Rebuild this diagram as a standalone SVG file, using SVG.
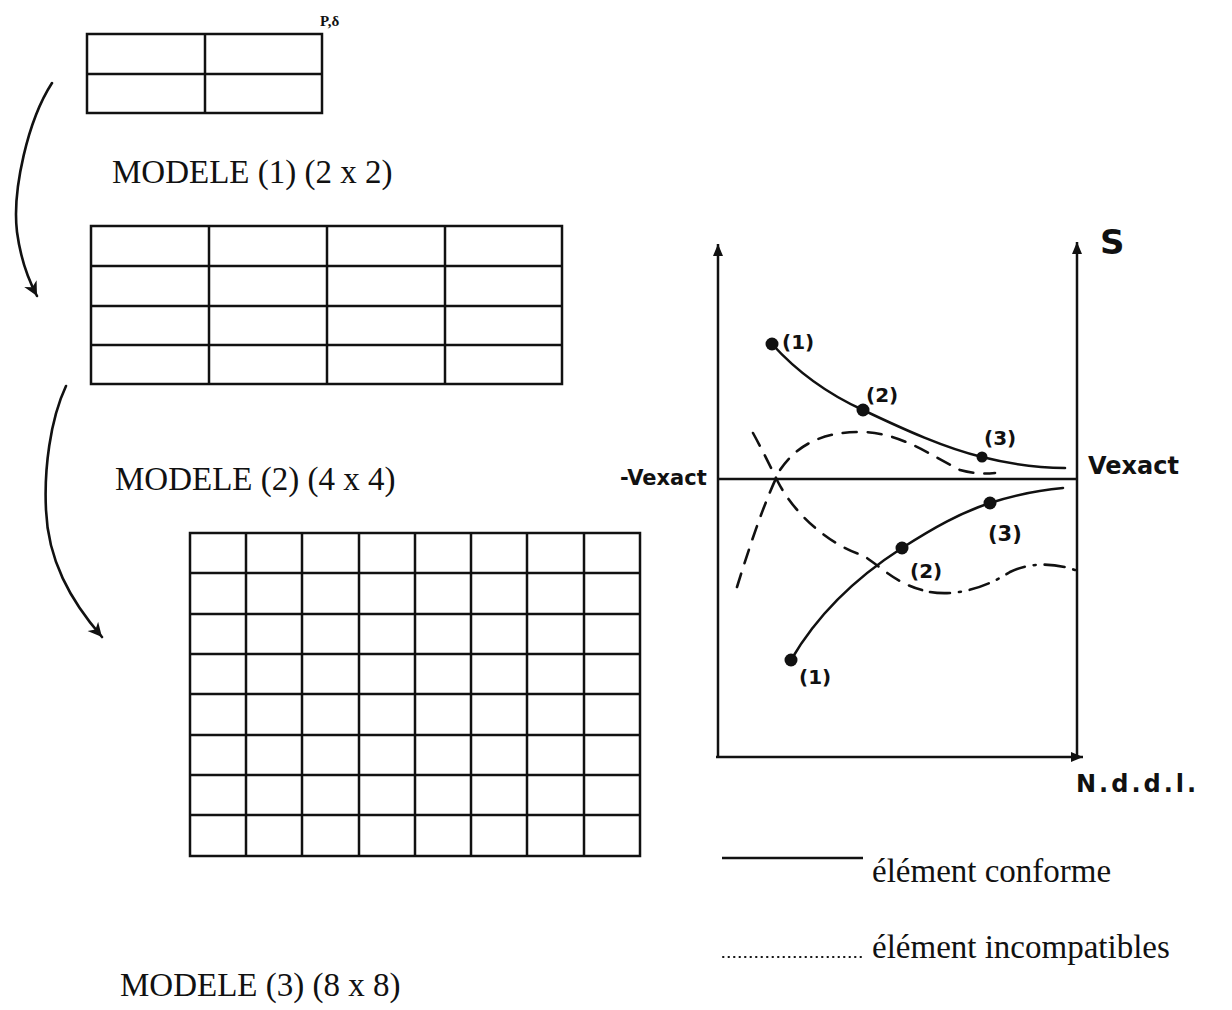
<svg xmlns="http://www.w3.org/2000/svg" width="1232" height="1010" viewBox="0 0 1232 1010">
<style>
.grid{fill:none;stroke:#111;stroke-width:2.5}
.ln{stroke:#111;stroke-width:2.5;fill:none}
.lbl{font-family:"Liberation Serif",serif;fill:#111}
.hand{font-family:"DejaVu Sans",sans-serif;font-weight:bold;fill:#111}
.curve{fill:none;stroke:#111;stroke-width:2.6;stroke-linecap:round}
.dash{fill:none;stroke:#111;stroke-width:2.6;stroke-linecap:round;stroke-dasharray:14 11}
.dashdot{fill:none;stroke:#111;stroke-width:2.6;stroke-linecap:round;stroke-dasharray:20 9 2 9}
.pt{fill:#111}
</style>
<defs>
<marker id="ax" markerUnits="userSpaceOnUse" markerWidth="14" markerHeight="12" refX="12" refY="5" orient="auto">
<path d="M0,0 L12,5 L0,10 z" fill="#111"/>
</marker>
<marker id="cv" markerUnits="userSpaceOnUse" markerWidth="18" markerHeight="16" refX="14" refY="7" orient="auto">
<path d="M0,0 L14,7 L0,14 L4,7 z" fill="#111"/>
</marker>
</defs>
<rect width="1232" height="1010" fill="#fff"/>

<g id="modele1">
<rect class="grid" x="87" y="34" width="235" height="79"/>
<line class="ln" x1="205" y1="34" x2="205" y2="113"/>
<line class="ln" x1="87" y1="74" x2="322" y2="74"/>
<text class="lbl" x="320" y="26" font-size="15" font-weight="bold">P,δ</text>
<text class="lbl" x="112" y="183" font-size="33">MODELE (1) (2 x 2)</text>
</g>

<g id="modele2">
<rect class="grid" x="91" y="226" width="471" height="158"/>
<line class="ln" x1="209" y1="226" x2="209" y2="384"/>
<line class="ln" x1="327" y1="226" x2="327" y2="384"/>
<line class="ln" x1="445" y1="226" x2="445" y2="384"/>
<line class="ln" x1="91" y1="266" x2="562" y2="266"/>
<line class="ln" x1="91" y1="306" x2="562" y2="306"/>
<line class="ln" x1="91" y1="345" x2="562" y2="345"/>
<text class="lbl" x="115" y="490" font-size="33">MODELE (2) (4 x 4)</text>
</g>

<g id="modele3">
<rect class="grid" x="190" y="533" width="450" height="323"/>
<path class="ln" d="M246,533V856M302,533V856M359,533V856M415,533V856M471,533V856M527,533V856M584,533V856"/>
<path class="ln" d="M190,573H640M190,614H640M190,654H640M190,694H640M190,735H640M190,775H640M190,815H640"/>
<text class="lbl" x="120" y="996" font-size="33">MODELE (3) (8 x 8)</text>
</g>

<g id="connectors">
<path class="curve" d="M52,83 C28,120 12,190 17,232 C21,262 29,281 37,296" marker-end="url(#cv)"/>
<path class="curve" d="M66,386 C50,420 44,470 46,510 C48,560 70,600 102,637" marker-end="url(#cv)"/>
</g>

<g id="chart">
<line class="ln" x1="718" y1="757" x2="718" y2="244" marker-end="url(#ax)"/>
<line class="ln" x1="1077" y1="757" x2="1077" y2="242" marker-end="url(#ax)"/>
<line class="ln" x1="716" y1="757" x2="1083" y2="757" marker-end="url(#ax)"/>
<line class="ln" x1="718" y1="479" x2="1077" y2="479" stroke-width="2"/>
<text class="hand" x="1100" y="254" font-size="34" font-weight="normal">S</text>
<text class="hand" x="620" y="485" font-size="21">-Vexact</text>
<text class="hand" x="1088" y="474" font-size="24">Vexact</text>
<text class="hand" x="1076" y="792" font-size="24" letter-spacing="3">N.d.d.l.</text>

<path class="curve" d="M772,344 C800,375 830,395 863,410 C905,430 945,448 982,457 C1010,464 1035,468 1065,468"/>
<circle class="pt" cx="772" cy="344" r="6.5"/>
<circle class="pt" cx="863" cy="410" r="6.5"/>
<circle class="pt" cx="982" cy="457" r="5.5"/>
<text class="hand" x="782" y="349" font-size="20">(1)</text>
<text class="hand" x="866" y="402" font-size="20">(2)</text>
<text class="hand" x="984" y="445" font-size="20">(3)</text>

<path class="curve" d="M791,660 C820,610 860,575 902,548 C935,527 960,513 990,503 C1015,495 1040,490 1063,488"/>
<circle class="pt" cx="791" cy="660" r="6.5"/>
<circle class="pt" cx="902" cy="548" r="6.5"/>
<circle class="pt" cx="990" cy="503" r="6.5"/>
<text class="hand" x="799" y="684" font-size="20">(1)</text>
<text class="hand" x="910" y="578" font-size="20">(2)</text>
<text class="hand" x="988" y="541" font-size="21">(3)</text>

<path class="dash" d="M737,587 C750,545 765,500 780,470 C800,440 830,432 860,432 C900,432 930,455 960,470 C975,474 985,474 995,473"/>
<path class="dash" d="M753,433 C765,455 772,470 778,482 C795,515 830,545 862,555 C880,565 895,585 930,592"/>
<path class="dashdot" d="M930,592 C960,597 990,585 1010,572 C1030,562 1055,563 1075,570"/>
</g>

<g id="legend">
<line class="ln" x1="722" y1="858" x2="863" y2="858" stroke-width="2"/>
<text class="lbl" x="872" y="882" font-size="33">élément conforme</text>
<line x1="723" y1="957" x2="862" y2="957" stroke="#111" stroke-width="2" stroke-linecap="round" stroke-dasharray="0.5 5"/>
<text class="lbl" x="872" y="958" font-size="33">élément incompatibles</text>
</g>
</svg>
